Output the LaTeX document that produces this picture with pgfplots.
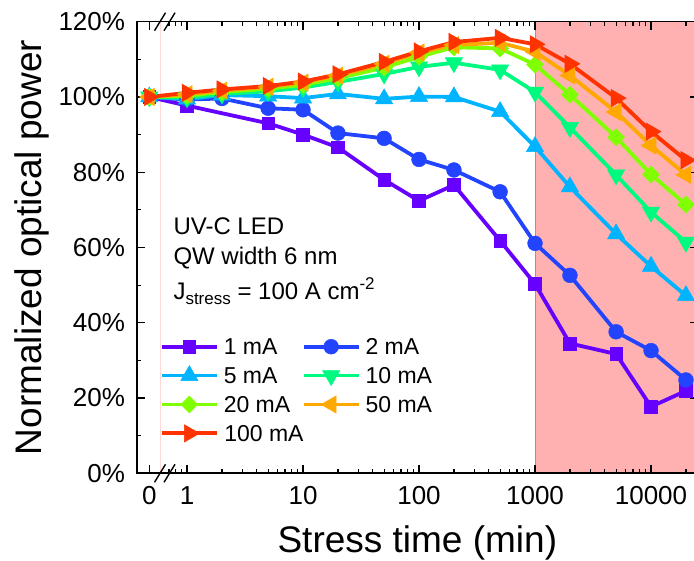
\documentclass[border=0pt]{standalone}
\usepackage{pgfplots}
\pgfplotsset{compat=1.18}
\usepackage{pgfplotstable}
\usepackage{fontspec}
\setmainfont{Liberation Sans}

\definecolor{c1}{RGB}{102,0,255}
\definecolor{c2}{RGB}{34,68,255}
\definecolor{c3}{RGB}{0,180,255}
\definecolor{c4}{RGB}{0,250,128}
\definecolor{c5}{RGB}{128,255,0}
\definecolor{c6}{RGB}{255,168,0}
\definecolor{c7}{RGB}{255,51,0}
\definecolor{shade}{RGB}{255,176,176}
\definecolor{faint}{RGB}{255,215,215}

% Stress time t (min); t = 0 is drawn at 0.473 on the broken log axis
% 1 mA series
\pgfplotstableread{
t      a
0.473  100
1      97.7
5      93.0
10     90.0
20     86.6
50     78.0
100    72.4
200    76.6
500    61.8
1000   50.3
2000   34.5
5000   31.7
10000  17.7
20000  21.9
}\dataA
% 2, 5, 10, 20, 50, 100 mA series
\pgfplotstableread{
t      b      c      d      e      f      g
0.473  100    100    100    100    100    100
1      99.3   99.4   99.8   100.3  100.7  101.1
2      99.6   100.5  100.8  101.3  101.7  102.0
5      97.0   100.2  101.5  102.2  102.7  102.9
10     96.6   99.7   102.5  103.2  103.8  104.1
20     90.4   100.8  104.0  105.0  105.7  106.0
50     89.0   99.5   106.1  107.8  108.8  109.3
100    83.4   100.1  108.0  110.7  111.8  112.1
200    80.6   100.0  109.1  113.2  113.8  114.6
500    74.8   96.1   107.2  112.9  114.4  115.7
1000   61.1   86.8   101.3  108.6  112.0  114.0
2000   52.6   76.1   91.9   100.6  105.7  108.8
5000   37.6   63.6   79.3   89.3   96.0   99.7
10000  32.6   55.0   69.4   79.4   87.1   90.8
20000  24.8   47.2   61.4   71.4   79.3   83.2
}\dataB

\begin{document}
\begin{tikzpicture}
\begin{axis}[
  set layers,
  at={(136.7pt,87.7pt)}, anchor=south west,
  scale only axis, width=561.3pt, height=451.6pt,
  xmode=log, xmin=0.3683, xmax=25410,
  ymin=0, ymax=120,
  clip=false,
  xtick={0.473,1,10,100,1000,10000},
  xticklabels={0,1,10,100,1000,10000},
  minor xtick={0.7,0.8,0.9,2,3,4,5,6,7,8,9,20,30,40,50,60,70,80,90,200,300,400,500,600,700,800,900,2000,3000,4000,5000,6000,7000,8000,9000,20000},
  ytick={0,20,40,60,80,100,120},
  yticklabels={0\%,20\%,40\%,60\%,80\%,100\%,120\%},
  minor ytick={10,30,50,70,90,110},
  /pgf/number format/assume math mode=true,
  tick align=inside,
  major tick length=8pt, minor tick length=4pt,
  tick style={black, line width=1.2pt},
  axis line style={line width=1.6pt, black},
  tick label style={font=\fontsize{26}{30}\selectfont},
  xticklabel style={inner sep=0pt, yshift=-13pt},
  yticklabel style={inner sep=0pt, xshift=-11.5pt},
  label style={font=\fontsize{37}{43}\selectfont},
  xlabel={Stress time (min)},
  ylabel={Normalized optical power},
  xlabel style={at={(axis description cs:0.5,-0.17648)}, anchor=base, inner sep=0pt},
  ylabel style={at={(axis description cs:-0.16925,0.5)}, anchor=base, inner sep=0pt},
  legend columns=2,
  legend cell align=left,
  legend style={draw=none, fill=none, inner sep=0pt, outer sep=0pt,
    at={(axis description cs:0.04151,0.31233)}, anchor=north west,
    font=\fontsize{23}{27}\selectfont,
    nodes={inner sep=0pt, text depth=0pt},
    row sep=0pt,
    /tikz/every odd column/.append style={column sep=5pt},
    /tikz/every even column/.append style={column sep=11.5pt}},
  legend image code/.code={
    \path[draw=none, fill=none] (0pt,-14.45pt) rectangle (55pt,14.45pt);
    \draw[mark repeat=2,mark phase=2,#1] plot coordinates {(0pt,0pt) (27.5pt,0pt) (55pt,0pt)};
  },
]
% shaded region (t >= 1000 min)
\addplot[on layer=axis background, forget plot, draw=none, fill=shade] coordinates {(1000,0) (25410,0) (25410,120) (1000,120)} -- cycle;
\addplot[on layer=axis background, forget plot, gray!80, line width=1pt] coordinates {(1000,0) (1000,120)};
\addplot[on layer=axis background, forget plot, faint, line width=0.8pt] coordinates {(0.585,0) (0.585,120)};

\addplot[c1, line width=3.8pt, mark=square*, mark size=6.3pt, mark options={solid, line width=0.5pt}] table[x=t,y=a]{\dataA};
\addlegendentry{1 mA}
\addplot[c2, line width=3.8pt, mark=*, mark size=7.4pt, mark options={solid, line width=0.5pt}] table[x=t,y=b]{\dataB};
\addlegendentry{2 mA}
\addplot[c3, line width=3.8pt, mark=triangle*, mark size=10pt, mark options={solid, line width=0.5pt}] table[x=t,y=c]{\dataB};
\addlegendentry{5 mA}
\addplot[c4, line width=3.8pt, mark=triangle*, mark size=10pt, mark options={solid, line width=0.5pt, rotate=180}] table[x=t,y=d]{\dataB};
\addlegendentry{10 mA}
\addplot[c5, line width=3.8pt, mark=square*, mark size=6pt, mark options={solid, line width=0.5pt, rotate=45}] table[x=t,y=e]{\dataB};
\addlegendentry{20 mA}
\addplot[c6, line width=3.8pt, mark=triangle*, mark size=10pt, mark options={solid, line width=0.5pt, rotate=90}] table[x=t,y=f]{\dataB};
\addlegendentry{50 mA}
\addplot[c7, line width=3.8pt, mark=triangle*, mark size=10pt, mark options={solid, line width=0.5pt, rotate=-90}] table[x=t,y=g]{\dataB};
\addlegendentry{\makebox[0pt][l]{100 mA}}

% axis break marks
\draw[line width=1.4pt] ([xshift=-5.5pt,yshift=-9pt]axis cs:0.585,0) -- ([xshift=5.5pt,yshift=9pt]axis cs:0.585,0);
\draw[line width=1.4pt] ([xshift=-5.5pt,yshift=-9pt]axis cs:0.7066,0) -- ([xshift=5.5pt,yshift=9pt]axis cs:0.7066,0);
\draw[line width=1.4pt] ([xshift=-5.5pt,yshift=-9pt]axis cs:0.585,120) -- ([xshift=5.5pt,yshift=9pt]axis cs:0.585,120);
\draw[line width=1.4pt] ([xshift=-5.5pt,yshift=-9pt]axis cs:0.7066,120) -- ([xshift=5.5pt,yshift=9pt]axis cs:0.7066,120);
\end{axis}
\begin{scope}[every node/.style={anchor=base west, inner sep=0pt, font=\fontsize{24}{28}\selectfont}]
\node at (173.3pt,326pt) {UV-C LED};
\node at (173.3pt,296pt) {QW width 6 nm};
\node at (173.3pt,261pt) {J\raisebox{-5pt}{\fontsize{17}{17}\selectfont stress} = 100 A cm\raisebox{10pt}{\fontsize{17}{17}\selectfont -2}};
\end{scope}
\pgfresetboundingbox
\useasboundingbox (0,0) rectangle (694pt,561pt);
\end{tikzpicture}
\end{document}
